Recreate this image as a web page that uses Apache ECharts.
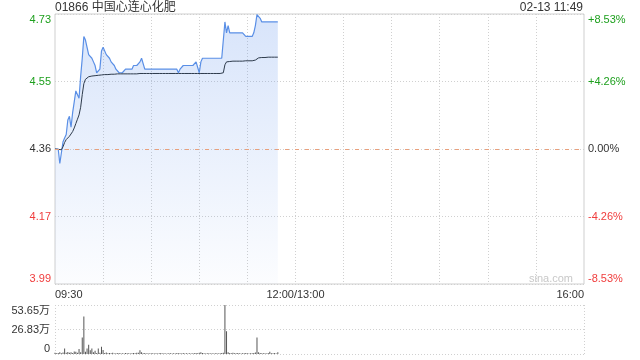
<!DOCTYPE html>
<html>
<head>
<meta charset="utf-8">
<script src="https://cdn.jsdelivr.net/npm/echarts@6/dist/echarts.min.js"></script>
<style>
html,body{margin:0;padding:0;background:#fff;}
#c{width:640px;height:360px;}
</style>
</head>
<body>
<div id="c"></div>
<script>
// ---------- data ----------
const titleText = '01866 中国心连心化肥';
const timeText = '02-13 11:49';
const prevClose = 4.36;
const pctRange = 0.0853;
const priceTicks = ['3.99', '4.17', '4.36', '4.55', '4.73'];
const pctTicks = ['-8.53%', '-4.26%', '0.00%', '+4.26%', '+8.53%'];
const volTicks = ['0', '26.83万', '53.65万'];
const volMax = 53.65; // 万
const timeTicks = {0: '09:30', 150: '12:00/13:00', 330: '16:00'};

const price = [
  4.36,4.36,4.36,4.32,4.32,4.38,4.39,4.40,4.44,4.45,
  4.42,4.46,4.49,4.52,4.52,4.50,4.56,4.61,4.67,4.66,
  4.64,4.62,4.62,4.61,4.60,4.59,4.57,4.57,4.58,4.63,
  4.64,4.64,4.62,4.62,4.61,4.60,4.60,4.59,4.58,4.58,
  4.57,4.57,4.57,4.57,4.58,4.58,4.58,4.58,4.58,4.59,
  4.59,4.59,4.59,4.60,4.61,4.61,4.58,4.58,4.58,4.58,
  4.58,4.58,4.58,4.58,4.58,4.58,4.58,4.58,4.58,4.58,
  4.58,4.58,4.58,4.58,4.58,4.58,4.58,4.57,4.58,4.58,
  4.59,4.59,4.59,4.59,4.59,4.59,4.59,4.59,4.60,4.60,
  4.57,4.60,4.61,4.61,4.61,4.61,4.61,4.61,4.61,4.61,
  4.61,4.61,4.61,4.61,4.61,4.61,4.71,4.68,4.70,4.68,
  4.68,4.68,4.68,4.68,4.68,4.68,4.68,4.68,4.68,4.67,
  4.67,4.67,4.67,4.67,4.68,4.70,4.73,4.73,4.72,4.71,
  4.71,4.71,4.71,4.71,4.71,4.71,4.71,4.71,4.71,4.71
];

const avgPrice = [
  4.360,4.360,4.359,4.355,4.358,4.366,4.378,4.386,4.391,4.395,
  4.400,4.408,4.418,4.430,4.442,4.454,4.475,4.510,4.540,4.552,
  4.557,4.559,4.560,4.561,4.561,4.562,4.562,4.563,4.563,4.564,
  4.564,4.565,4.565,4.565,4.566,4.566,4.566,4.566,4.567,4.567,
  4.567,4.567,4.567,4.567,4.567,4.567,4.567,4.567,4.567,4.567,
  4.567,4.567,4.568,4.568,4.568,4.568,4.568,4.568,4.568,4.568,
  4.568,4.568,4.568,4.568,4.568,4.568,4.568,4.568,4.568,4.568,
  4.568,4.568,4.568,4.568,4.568,4.568,4.568,4.568,4.568,4.568,
  4.568,4.568,4.568,4.568,4.568,4.568,4.568,4.568,4.568,4.568,
  4.568,4.568,4.568,4.568,4.568,4.568,4.568,4.568,4.568,4.568,
  4.568,4.568,4.568,4.568,4.569,4.570,4.592,4.600,4.601,4.601,
  4.602,4.602,4.602,4.602,4.602,4.602,4.602,4.602,4.602,4.603,
  4.603,4.603,4.603,4.603,4.604,4.605,4.609,4.611,4.612,4.612,
  4.612,4.612,4.612,4.613,4.613,4.613,4.613,4.613,4.613,4.613
];

// volume in 万
const volume = [
  1.5,0.8,1.2,1.8,0.9,1.6,6.0,1.5,2.2,1.4,
  2.0,1.1,2.8,2.6,1.3,5.5,1.8,18.0,41.0,2.5,
  6.0,10.0,4.0,6.0,1.8,3.5,1.2,6.0,1.4,8.0,
  4.5,1.0,1.6,0.8,1.1,0.7,1.3,0.6,0.9,0.7,
  1.0,0.6,0.8,0.5,1.2,0.7,0.9,0.6,0.8,1.1,
  0.7,1.3,1.5,4.0,1.8,0.9,1.2,0.6,0.8,0.5,
  0.7,0.9,0.6,0.8,0.5,0.7,1.0,0.6,0.8,0.5,
  0.6,0.9,0.7,0.5,0.8,0.6,1.1,0.9,0.7,0.6,
  1.0,0.6,0.8,0.5,0.7,0.6,0.9,0.8,1.2,0.7,
  1.5,2.0,1.2,0.8,0.6,0.9,0.7,0.5,0.8,0.6,
  0.7,0.9,0.6,0.8,1.0,1.5,53.65,25.0,1.8,1.2,
  0.8,1.5,0.9,0.7,1.1,0.8,0.6,0.9,0.7,1.0,
  0.8,0.6,0.9,0.7,1.2,1.6,18.0,2.0,1.1,0.8,
  0.7,0.9,0.6,1.0,2.5,0.8,0.7,1.2,0.6,2.0
];

// minute categories 09:30-12:00, 13:01-16:00
const minutes = [];
function pad(n){return (n<10?'0':'')+n;}
for (let m = 9*60+30; m <= 12*60; m++) minutes.push(pad(Math.floor(m/60))+':'+pad(m%60));
for (let m = 13*60+1; m <= 16*60; m++) minutes.push(pad(Math.floor(m/60))+':'+pad(m%60));

// ---------- style ----------
const GREEN = '#1ea01e', RED = '#f03c3c', DARK = '#333';
const FONT = "'Liberation Sans', Arial, 'Noto Sans CJK SC', sans-serif";
const GRID_LINE = '#d0d0d0';
function tickColor(v){ v = Number(v); return v > 0 ? GREEN : (v < 0 ? RED : DARK); }

const chart = echarts.init(document.getElementById('c'), null, {renderer: 'canvas'});
chart.setOption({
  animation: false,
  backgroundColor: '#fff',
  textStyle: {fontFamily: FONT},
  title: [
    {text: titleText, left: 50, top: -3, textStyle: {fontSize: 12, fontWeight: 'normal', color: '#333', fontFamily: FONT}},
    {text: timeText, right: 52, top: -3, textStyle: {fontSize: 12, fontWeight: 'normal', color: '#333', fontFamily: FONT}}
  ],
  grid: [
    {left: 55, right: 56, top: 14, height: 270, show: true, borderColor: '#cfcfcf', borderWidth: 1, backgroundColor: 'transparent'},
    {left: 55, right: 56, top: 305, height: 49}
  ],
  xAxis: [
    {
      type: 'category', gridIndex: 0, data: minutes, boundaryGap: false,
      axisLine: {show: false}, axisTick: {show: false},
      axisLabel: {
        interval: (i) => timeTicks[i] !== undefined,
        formatter: (v, i) => timeTicks[i] || '',
        color: DARK, fontSize: 11, margin: 5, fontFamily: FONT,
        alignMinLabel: 'left', alignMaxLabel: 'right'
      },
      splitLine: {show: true, interval: (i) => i % 30 === 0 && i !== 0 && i !== 330, lineStyle: {color: GRID_LINE, type: [1, 2], width: 1}}
    },
    {
      type: 'category', gridIndex: 1, data: minutes, boundaryGap: false,
      axisLine: {show: false}, axisTick: {show: false}, axisLabel: {show: false},
      splitLine: {show: true, interval: (i) => i === 0 || i === 330, lineStyle: {color: GRID_LINE, type: [1, 2], width: 1}}
    }
  ],
  yAxis: [
    { // left price labels
      type: 'value', gridIndex: 0, position: 'left', min: -2, max: 2, interval: 1,
      axisLine: {show: false}, axisTick: {show: false},
      axisLabel: {
        formatter: (v) => priceTicks[Math.round(v) + 2], color: tickColor,
        fontSize: 11, margin: 4, fontFamily: FONT,
        verticalAlignMinLabel: 'bottom', verticalAlignMaxLabel: 'top'
      },
      splitLine: {show: true, lineStyle: {color: GRID_LINE, type: [1, 2], width: 1}}
    },
    { // right percent labels
      type: 'value', gridIndex: 0, position: 'right', min: -2, max: 2, interval: 1,
      axisLine: {show: false}, axisTick: {show: false},
      axisLabel: {
        formatter: (v) => pctTicks[Math.round(v) + 2], color: tickColor,
        fontSize: 11, margin: 4, fontFamily: FONT,
        verticalAlignMinLabel: 'bottom', verticalAlignMaxLabel: 'top'
      },
      splitLine: {show: false}
    },
    { // hidden price scale
      type: 'value', gridIndex: 0, show: false,
      min: prevClose * (1 - pctRange), max: prevClose * (1 + pctRange),
      splitLine: {show: false}
    },
    { // volume labels
      type: 'value', gridIndex: 1, position: 'left', min: 0, max: 2, interval: 1,
      axisLine: {show: false}, axisTick: {show: false},
      axisLabel: {
        formatter: (v) => volTicks[Math.round(v)], color: DARK,
        fontSize: 11, margin: 5, fontFamily: FONT,
        verticalAlignMinLabel: 'bottom', verticalAlignMaxLabel: 'top'
      },
      splitLine: {show: true, lineStyle: {color: GRID_LINE, type: [1, 2], width: 1}}
    },
    { // hidden volume scale
      type: 'value', gridIndex: 1, show: false, min: 0, max: volMax, splitLine: {show: false}
    }
  ],
  graphic: [
    {type: 'text', right: 67, top: 273, silent: true,
     style: {text: 'sina.com', fill: '#c8c8c8', font: '11px ' + FONT}}
  ],
  series: [
    {
      name: 'price', type: 'line', xAxisIndex: 0, yAxisIndex: 2, data: price,
      showSymbol: false, symbol: 'none', smooth: false,
      lineStyle: {color: '#5a8fe6', width: 1.2},
      areaStyle: {
        origin: 'start',
        color: new echarts.graphic.LinearGradient(0, 0, 0, 1, [
          {offset: 0, color: 'rgba(100,149,237,0.36)'},
          {offset: 1, color: 'rgba(100,149,237,0.03)'}
        ])
      },
      markLine: {
        silent: true, symbol: 'none', label: {show: false},
        lineStyle: {color: '#e9a07c', type: [4, 6], width: 1},
        data: [{yAxis: prevClose}]
      },
      z: 3
    },
    {
      name: 'avg', type: 'line', xAxisIndex: 0, yAxisIndex: 2, data: avgPrice,
      showSymbol: false, symbol: 'none',
      lineStyle: {color: '#2e3b4c', width: 1},
      z: 4
    },
    {
      name: 'volume', type: 'bar', xAxisIndex: 1, yAxisIndex: 4, data: volume,
      barWidth: 1, itemStyle: {color: '#555'}, barGap: '0%'
    }
  ]
});
</script>
</body>
</html>
